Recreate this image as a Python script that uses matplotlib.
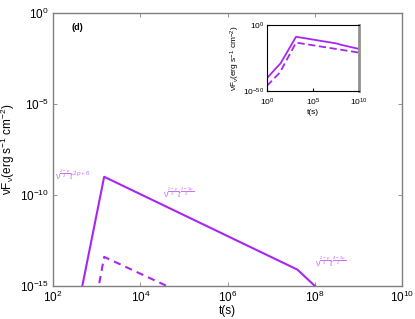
import numpy as np
import matplotlib.pyplot as plt

plt.rcParams['font.family'] = ['Liberation Sans', 'DejaVu Sans']
plt.rcParams['mathtext.fontset'] = 'custom'
plt.rcParams['mathtext.rm'] = 'Liberation Sans'
plt.rcParams['mathtext.it'] = 'Liberation Sans:italic'

# light curve points (log10 t, log10 nuF_nu)
solid_logt = [0.0, 1.5, 3.17, 7.6, 8.0, 10.0]
solid_logf = [-40.4, -29.0, -9.0, -14.1, -15.0, -18.2]
dash_logt = [0.0, 1.41, 3.17, 10.0]
dash_logf = [-46.2, -36.1, -13.4, -21.0]

# segment labels
lab_text = [r'$\mathrm{ν}^{\frac{3-p}{2}}t^{2p+6}$',
            r'$\mathrm{ν}^{\frac{2-p}{2}}t^{\frac{2-3p}{2}}$',
            r'$\mathrm{ν}^{\frac{2-p}{2}}t^{\frac{4-3p}{2}}$']
lab_t = [1.1e2, 3.3e4, 1.0e8]
lab_f = [1.3e-9, 1.3e-10, 2.2e-14]

purple = '#a726f2'
lab_col = '#c873f5'
ylab = r'$\mathrm{ν}$F$_\mathrm{ν}$(erg s$^{-1}$ cm$^{-2}$)'

ts = 10.0 ** np.array(solid_logt)
fs = 10.0 ** np.array(solid_logf)
td = 10.0 ** np.array(dash_logt)
fd = 10.0 ** np.array(dash_logf)

fig = plt.figure(figsize=(4.15, 3.19), dpi=100)
ax = fig.add_axes([0.128, 0.1034, 0.841, 0.856])
ax.plot(ts, fs, color=purple, lw=1.5)
ax.plot(td, fd, color=purple, lw=1.5, ls=(0, (3.5, 2.5)))
ax.set_xscale('log')
ax.set_yscale('log')
ax.set_xlim(1e2, 1e10)
ax.set_ylim(1e-15, 1e0)
ax.set_xticks([1e2, 1e4, 1e6, 1e8, 1e10])
ax.set_yticks([1e-15, 1e-10, 1e-5, 1e0])
ax.minorticks_off()
ax.tick_params(direction='in', top=True, right=True, length=3, width=0.6,
               color='#808080', labelsize=8.5, pad=3)
for s in ax.spines.values():
    s.set_color('#808080')
    s.set_linewidth(1.0)
ax.set_xlabel('t(s)', fontsize=8.5, labelpad=0)
ax.set_ylabel(ylab, fontsize=8.5, labelpad=2)
ax.text(0.054, 0.963, '(d)', transform=ax.transAxes, fontsize=6.5,
        fontweight='bold', va='top')
for txt, x, y in zip(lab_text, lab_t, lab_f):
    ax.text(x, y, txt, color=lab_col, fontsize=6.5, va='center')

ins = fig.add_axes([0.643, 0.715, 0.222, 0.207])
ins.plot(ts, fs, color=purple, lw=1.3)
ins.plot(td, fd, color=purple, lw=1.3, ls=(0, (4, 2)))
ins.set_xscale('log')
ins.set_yscale('log')
ins.set_xlim(1e0, 1e10)
ins.set_ylim(1e-50, 1e0)
ins.set_xticks([1e0, 1e5, 1e10])
ins.set_yticks([1e-50, 1e0])
ins.minorticks_off()
ins.tick_params(direction='in', length=2, labelsize=6, pad=2)
ins.tick_params(axis='x', pad=4)
ins.spines['right'].set_color('#909090')
ins.spines['right'].set_linewidth(2)
ins.set_xlabel('t(s)', fontsize=6, labelpad=1)
ins.set_ylabel(ylab, fontsize=6, labelpad=1)

fig.savefig('out.png', dpi=100)
